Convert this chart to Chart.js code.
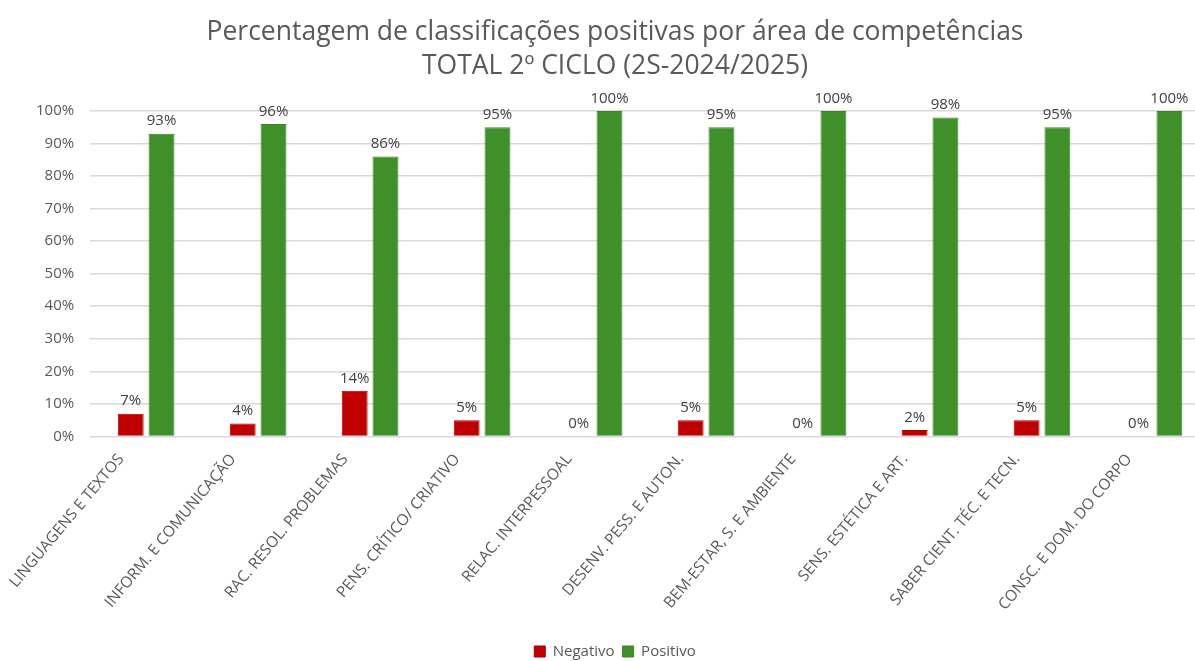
<!DOCTYPE html>
<html>
<head>
<meta charset="utf-8">
<script src="https://cdn.jsdelivr.net/npm/chart.js@4/dist/chart.umd.min.js"></script>
<style>
  html, body { margin: 0; padding: 0; background: #fff; overflow: hidden; }
  #wrap { width: 1228px; height: 661px; }
</style>
</head>
<body>
<div id="wrap"><canvas id="chart"></canvas></div>
<script>
const categories = [
  'LINGUAGENS E TEXTOS', 'INFORM. E COMUNICAÇÃO', 'RAC. RESOL. PROBLEMAS', 'PENS. CRÍTICO/ CRIATIVO',
  'RELAC. INTERPESSOAL', 'DESENV. PESS. E AUTON.', 'BEM-ESTAR, S. E AMBIENTE', 'SENS. ESTÉTICA E ART.',
  'SABER CIENT. TÉC. E TECN.', 'CONSC. E DOM. DO CORPO'
];
const negativo = [7, 4, 14, 5, 0, 5, 0, 2, 5, 0];
const positivo = [93, 96, 86, 95, 100, 95, 100, 98, 95, 100];
const titleLines = ['Percentagem de classificações positivas por área de competências', 'TOTAL 2º CICLO (2S-2024/2025)'];

const FONT = '"Open Sans", Lato, sans-serif';
const GREY = '#595959';

// value labels above each bar
const valueLabels = {
  id: 'valueLabels',
  afterDatasetsDraw(chart) {
    const ctx = chart.ctx;
    ctx.save();
    ctx.font = '15px ' + FONT;
    ctx.fillStyle = '#404040';
    ctx.textAlign = 'center';
    ctx.textBaseline = 'bottom';
    chart.data.datasets.forEach((ds, i) => {
      chart.getDatasetMeta(i).data.forEach((bar, j) => {
        ctx.fillText(ds.data[j] + '%', bar.x, bar.y - 5);
      });
    });
    ctx.restore();
  }
};

new Chart(document.getElementById('chart'), {
  type: 'bar',
  data: {
    labels: categories,
    datasets: [
      { label: 'Negativo', data: negativo, backgroundColor: '#c00000', borderColor: '#a00000', borderWidth: 1 },
      { label: 'Positivo', data: positivo, backgroundColor: '#3f8f2a', borderColor: '#3a8526', borderWidth: 1 }
    ]
  },
  options: {
    responsive: true,
    maintainAspectRatio: false,
    animation: false,
    layout: { padding: { top: 6, left: 20, right: 18, bottom: -8 } },
    datasets: { bar: { categoryPercentage: 0.55, barPercentage: 0.84 } },
    plugins: {
      title: {
        display: true,
        text: titleLines,
        color: GREY,
        font: { family: FONT, size: 26.5, weight: 'normal', lineHeight: 1.3 },
        padding: { top: 9, bottom: 27 }
      },
      legend: {
        position: 'bottom',
        labels: { color: GREY, font: { family: FONT, size: 15 }, boxWidth: 11, boxHeight: 11, padding: 8 }
      },
      tooltip: { enabled: false }
    },
    scales: {
      x: {
        grid: { display: false },
        border: { display: false },
        ticks: { color: GREY, font: { family: FONT, size: 15.5 }, maxRotation: 50, minRotation: 50, padding: 6, labelOffset: -25 },
        afterFit(scale) { scale.height += 16; }
      },
      y: {
        min: 0,
        max: 100,
        grid: { color: '#d9d9d9', lineWidth: 1.5, drawTicks: false },
        border: { display: false },
        ticks: { stepSize: 10, color: GREY, font: { family: FONT, size: 15 }, padding: 16, callback: v => v + '%' }
      }
    }
  },
  plugins: [valueLabels]
});
</script>
</body>
</html>
